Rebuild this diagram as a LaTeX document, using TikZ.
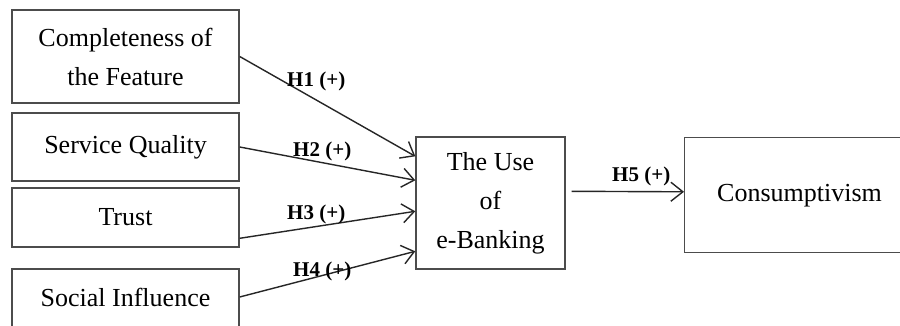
\documentclass[tikz,border=0pt]{standalone}
\usepackage{fontspec}
\setmainfont{Liberation Serif}
\usetikzlibrary{arrows.meta,calc}
\begin{document}
\begin{tikzpicture}[x=1pt,y=-1pt,
  box/.style={draw=black!70,line width=1.4pt,inner sep=0pt,align=center,
    font=\fontsize{26}{39}\selectfont},
  txt/.style={inner sep=0pt,align=center,font=\fontsize{26}{39}\selectfont},
  hyp/.style={inner sep=0pt,anchor=base west,font=\fontsize{21}{25}\selectfont\bfseries},
  conn/.style={draw=black!85,line width=1.4pt,-{Straight Barb[length=12pt,width=19pt,line width=1.4pt]}}]
\useasboundingbox (0,0) rectangle (900,326);
\clip (0,0) rectangle (900,326);
\fill[white] (0,0) rectangle (900,326);
% left boxes
\node[box,minimum width=227,minimum height=93] (cf) at (125.5,56.5) {Completeness of\\the Feature};
\node[box,minimum width=227,minimum height=68] (sq) at (125.5,147) {Service Quality};
\node[box,minimum width=227,minimum height=59] (tr) at (125.5,217.5) {Trust};
\node[box,minimum width=227,minimum height=90] (si) at (125.5,314) {};
\node[txt] (sit) at (125.5,297) {Social Influence};
% middle box
\node[box,minimum width=149,minimum height=132] (use) at (490.5,203) {The Use\\of\\e-Banking};
% right box
\node[box,minimum width=260,minimum height=115,anchor=north west] (cons) at (684,136.8) {};
\node[txt] (const) at (799.5,196) {Consumptivism};
% connectors
\coordinate (tr1) at ($(tr.north east)+(0,51)$);
\coordinate (si1) at (sit -| si.east);
\coordinate (u1) at ($(use.north west)+(0,20)$);
\coordinate (u2) at ($(use.north west)+(0,44)$);
\coordinate (u3) at ($(use.north west)+(0,75)$);
\coordinate (u4) at ($(use.north west)+(0,115)$);
\coordinate (u5) at ($(use.north east)+(6,55)$);
\coordinate (c5) at ($(cons.north west)+(0,55)$);
\draw[conn] (cf.east) -- (u1);
\draw[conn] (sq.east) -- (u2);
\draw[conn] (tr1) -- (u3);
\draw[conn] (si1) -- (u4);
\draw[conn] (u5) -- (c5);
% labels
\node[hyp] (h1) at (287,87) {H1 (+)};
\node[hyp] (h2) at (293,157) {H2 (+)};
\node[hyp] (h3) at (287,219) {H3 (+)};
\node[hyp] (h4) at (293,276) {H4 (+)};
\node[hyp] (h5) at (612,182) {H5 (+)};
\end{tikzpicture}
\end{document}
